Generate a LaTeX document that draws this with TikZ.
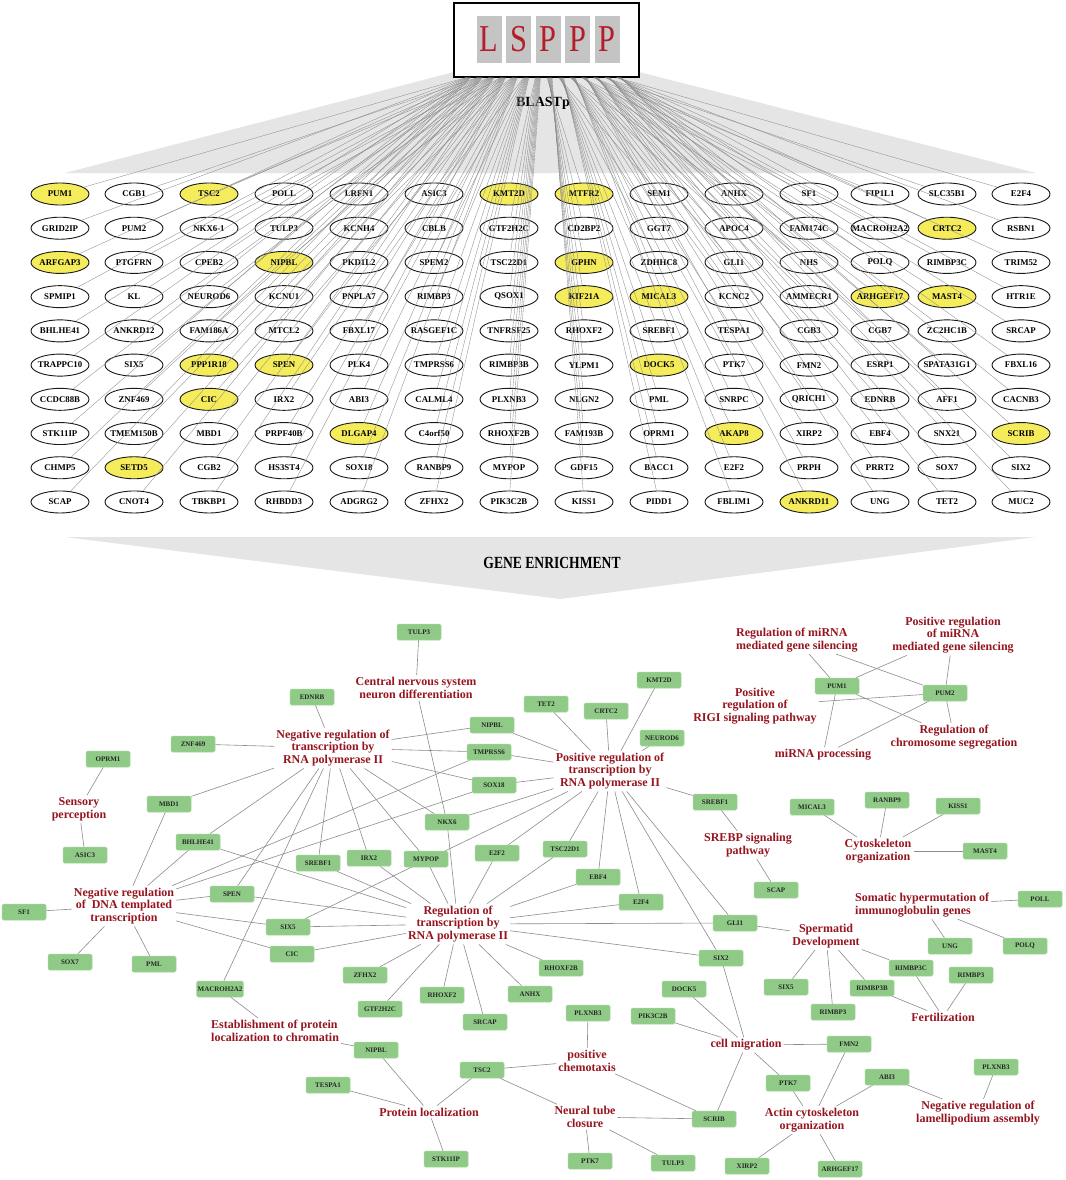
\documentclass[tikz,border=0pt]{standalone}
\usepackage{fontspec}
\setmainfont{Liberation Serif}
\usetikzlibrary{shapes.geometric,calc,backgrounds}
\definecolor{ylw}{RGB}{245,236,92}
\definecolor{gfill}{RGB}{143,203,135}
\definecolor{gline}{RGB}{165,214,158}
\definecolor{termred}{RGB}{150,22,32}
\definecolor{lred}{RGB}{180,30,42}
\definecolor{band}{RGB}{229,229,229}
\definecolor{lgray}{RGB}{196,196,196}
\def\colx{{60,134,209,284,359,434,509,584,659,734,809,880,947,1021}}
\newcommand\generow[2]{%
  \foreach \n/\s [count=\c] in {#2}{%
    \pgfmathsetmacro\xx{\colx[\c-1]}%
    \pgfmathsetmacro\yy{194+34.22*(#1-1)}%
    \node[gene,fill=\s] (t#1-\c) at (\xx,\yy) {\makebox[0pt]{\n}};
  }}
\tikzset{
  gene/.style={ellipse, draw=black!90, line width=0.9pt, minimum width=58pt, minimum height=22pt, inner sep=0pt, font=\bfseries\fontsize{8.8}{9}\selectfont},
  blast/.style={draw=black!45, line width=0.35pt},
  gb/.style={rectangle, rounded corners=1.5pt, fill=gfill, draw=gline, line width=0.5pt, minimum width=44pt, minimum height=16pt, inner sep=1pt, font=\bfseries\fontsize{7}{7}\selectfont, text=black!85},
  term/.style={text=termred, font=\bfseries\fontsize{12}{12.7}\selectfont, align=center, inner sep=2pt},
  lnk/.style={draw=black!45, line width=0.6pt},
  letbox/.style={fill=lgray, minimum width=25pt, minimum height=47pt, inner sep=0pt, text=lred, font=\fontsize{38}{38}\selectfont}
}
\begin{document}
\begin{tikzpicture}[x=1pt,y=-1pt]
\useasboundingbox (0,0) rectangle (1065,1180);
\begin{scope}[on background layer]
\fill[white] (0,0) rectangle (1065,1180);
\end{scope}
% bands
\fill[band] (454,72) -- (639,72) -- (1036,173) -- (65,173) -- cycle;
\fill[band] (65,537) -- (1036,537) -- (560,599) -- cycle;
% LSPPP box
\node[draw, line width=1.2pt, fill=white, minimum width=185pt, minimum height=74pt, inner sep=0pt] (lsp) at (546.5,40) {};
\foreach \L [count=\i] in {L,S,P,P,P}{
  \node[letbox] (let\i) at ({489+29.5*(\i-1)},39.5) {\scalebox{0.8}[1]{\L}};
}
\node[font=\bfseries\fontsize{14}{14}\selectfont] (blastp) at (543,103) {BLASTp};
\node[font=\bfseries\fontsize{17}{17}\selectfont] (genenr) at (552,563) {\scalebox{0.8}[1]{GENE ENRICHMENT}};
% gene grid
\generow{1}{PUM1/ylw,CGB1/white,TSC2/ylw,POLL/white,LRFN1/white,ASIC3/white,KMT2D/ylw,MTFR2/ylw,SEM1/white,ANHX/white,SF1/white,FIP1L1/white,SLC35B1/white,E2F4/white}
\generow{2}{GRID2IP/white,PUM2/white,NKX6-1/white,TULP3/white,KCNH4/white,CBLB/white,GTF2H2C/white,CD2BP2/white,GGT7/white,APOC4/white,FAM174C/white,MACROH2A2/white,CRTC2/ylw,RSBN1/white}
\generow{3}{ARFGAP3/ylw,PTGFRN/white,CPEB2/white,NIPBL/ylw,PKD1L2/white,SPEM2/white,TSC22D1/white,GPHN/ylw,ZDHHC8/white,GLI1/white,NHS/white,POLQ/white,RIMBP3C/white,TRIM52/white}
\generow{4}{SPMIP1/white,KL/white,NEUROD6/white,KCNU1/white,PNPLA7/white,RIMBP3/white,QSOX1/white,KIF21A/ylw,MICAL3/ylw,KCNC2/white,AMMECR1/white,ARHGEF17/ylw,MAST4/ylw,HTR1E/white}
\generow{5}{BHLHE41/white,ANKRD12/white,FAM186A/white,MTCL2/white,FBXL17/white,RASGEF1C/white,TNFRSF25/white,RHOXF2/white,SREBF1/white,TESPA1/white,CGB3/white,CGB7/white,ZC2HC1B/white,SRCAP/white}
\generow{6}{TRAPPC10/white,SIX5/white,PPP1R18/ylw,SPEN/ylw,PLK4/white,TMPRSS6/white,RIMBP3B/white,YLPM1/white,DOCK5/ylw,PTK7/white,FMN2/white,ESRP1/white,SPATA31G1/white,FBXL16/white}
\generow{7}{CCDC88B/white,ZNF469/white,CIC/ylw,IRX2/white,ABI3/white,CALML4/white,PLXNB3/white,NLGN2/white,PML/white,SNRPC/white,QRICH1/white,EDNRB/white,AFF1/white,CACNB3/white}
\generow{8}{STK11IP/white,TMEM150B/white,MBD1/white,PRPF40B/white,DLGAP4/ylw,C4orf50/white,RHOXF2B/white,FAM193B/white,OPRM1/white,AKAP8/ylw,XIRP2/white,EBF4/white,SNX21/white,SCRIB/ylw}
\generow{9}{CHMP5/white,SETD5/ylw,CGB2/white,HS3ST4/white,SOX18/white,RANBP9/white,MYPOP/white,GDF15/white,BACC1/white,E2F2/white,PRPH/white,PRRT2/white,SOX7/white,SIX2/white}
\generow{10}{SCAP/white,CNOT4/white,TBKBP1/white,RHBDD3/white,ADGRG2/white,ZFHX2/white,PIK3C2B/white,KISS1/white,PIDD1/white,FBLIM1/white,ANKRD11/ylw,UNG/white,TET2/white,MUC2/white}
% BLASTp fan
\foreach \r in {1,...,10}{
  \foreach \c in {1,...,14}{
    \pgfmathsetmacro\tf{0.08+0.81*(\c-1)/13+(\r-5.5)*0.003}
    \draw[blast] ($(lsp.south west)!\tf!(lsp.south east)$) -- (t\r-\c);
  }
}
% network genes
\node[gb] (nTULP3a) at (419,632) {TULP3};
\node[gb] (nEDNRB) at (312,697) {EDNRB};
\node[gb] (nZNF469) at (193,744) {ZNF469};
\node[gb] (nNIPBLa) at (492,725) {NIPBL};
\node[gb] (nTMPRSS6) at (489,752) {TMPRSS6};
\node[gb] (nOPRM1) at (108,759) {OPRM1};
\node[gb] (nSOX18) at (494,785) {SOX18};
\node[gb] (nMBD1) at (169,804) {MBD1};
\node[gb] (nNKX6) at (447,822) {NKX6};
\node[gb] (nBHLHE41) at (198,842) {BHLHE41};
\node[gb] (nASIC3) at (85,855) {ASIC3};
\node[gb] (nSREBF1a) at (318,863) {SREBF1};
\node[gb] (nIRX2) at (369,858) {IRX2};
\node[gb] (nMYPOP) at (426,859) {MYPOP};
\node[gb] (nE2F2) at (497,853) {E2F2};
\node[gb] (nSPEN) at (232,894) {SPEN};
\node[gb] (nSF1) at (24,912) {SF1};
\node[gb] (nSOX7) at (70,962) {SOX7};
\node[gb] (nPML) at (154,964) {PML};
\node[gb] (nSIX5a) at (288,927) {SIX5};
\node[gb] (nCIC) at (292,954) {CIC};
\node[gb] (nMACROH2A2) at (220,989) {MACROH2A2};
\node[gb] (nZFHX2) at (365,975) {ZFHX2};
\node[gb] (nGTF2H2C) at (380,1009) {GTF2H2C};
\node[gb] (nRHOXF2) at (442,995) {RHOXF2};
\node[gb] (nSRCAP) at (485,1022) {SRCAP};
\node[gb] (nNIPBLb) at (376,1050) {NIPBL};
\node[gb] (nTSC2) at (482,1070) {TSC2};
\node[gb] (nTESPA1) at (328,1085) {TESPA1};
\node[gb] (nSTK11IP) at (446,1159) {STK11IP};
\node[gb] (nPUM1) at (837,686) {PUM1};
\node[gb] (nPUM2) at (945,693) {PUM2};
\node[gb] (nKMT2D) at (659,680) {KMT2D};
\node[gb] (nTET2) at (546,704) {TET2};
\node[gb] (nCRTC2) at (606,711) {CRTC2};
\node[gb] (nNEUROD6) at (662,738) {NEUROD6};
\node[gb] (nSREBF1b) at (715,802) {SREBF1};
\node[gb] (nMICAL3) at (812,807) {MICAL3};
\node[gb] (nRANBP9) at (887,800) {RANBP9};
\node[gb] (nKISS1) at (958,806) {KISS1};
\node[gb] (nMAST4) at (985,851) {MAST4};
\node[gb] (nTSC22D1) at (565,849) {TSC22D1};
\node[gb] (nEBF4) at (598,877) {EBF4};
\node[gb] (nSCAP) at (776,890) {SCAP};
\node[gb] (nE2F4) at (641,902) {E2F4};
\node[gb] (nPOLL) at (1040,899) {POLL};
\node[gb] (nGLI1) at (735,923) {GLI1};
\node[gb] (nUNG) at (950,946) {UNG};
\node[gb] (nPOLQ) at (1025,946) {POLQ};
\node[gb] (nSIX2) at (721,958) {SIX2};
\node[gb] (nRHOXF2B) at (561,968) {RHOXF2B};
\node[gb] (nRIMBP3C) at (911,968) {RIMBP3C};
\node[gb] (nRIMBP3right) at (971,975) {RIMBP3};
\node[gb] (nSIX5b) at (786,987) {SIX5};
\node[gb] (nRIMBP3B) at (872,988) {RIMBP3B};
\node[gb] (nANHX) at (530,994) {ANHX};
\node[gb] (nDOCK5) at (684,989) {DOCK5};
\node[gb] (nPLXNB3a) at (588,1013) {PLXNB3};
\node[gb] (nPIK3C2B) at (653,1016) {PIK3C2B};
\node[gb] (nRIMBP3mid) at (833,1012) {RIMBP3};
\node[gb] (nFMN2) at (849,1044) {FMN2};
\node[gb] (nPLXNB3b) at (996,1067) {PLXNB3};
\node[gb] (nABI3) at (887,1077) {ABI3};
\node[gb] (nPTK7a) at (788,1083) {PTK7};
\node[gb] (nSCRIB) at (714,1119) {SCRIB};
\node[gb] (nPTK7b) at (590,1161) {PTK7};
\node[gb] (nTULP3b) at (673,1163) {TULP3};
\node[gb] (nXIRP2) at (747,1166) {XIRP2};
\node[gb] (nARHGEF17) at (840,1169) {ARHGEF17};
% terms
\node[term] (cCNS) at (416,688) {Central nervous system\\neuron differentiation};
\node[term] (cNRT) at (333,748) {Negative regulation of\\transcription by\\RNA polymerase II};
\node[term] (cSEN) at (79,809) {Sensory\\perception};
\node[term] (cNDNA) at (124,906) {Negative regulation\\of\ \ DNA templated\\transcription};
\node[term] (cRT) at (458,924) {Regulation of\\transcription by\\RNA polymerase II};
\node[term, anchor=west, align=left] (cEST) at (209,1031) {Establishment of protein\\localization to chromatin};
\node[term] (cPL) at (429,1112) {Protein localization};
\node[term, anchor=west, align=left] (cRMI) at (734,640) {Regulation of miRNA\\mediated gene silencing};
\node[term] (cPMI) at (953,635) {Positive regulation\\of miRNA\\mediated gene silencing};
\node[term] (cRIG) at (755,706) {Positive\\regulation of\\RIGI signaling pathway};
\node[term] (cMIP) at (823,755) {miRNA processing};
\node[term] (cCHR) at (954,737) {Regulation of\\chromosome segregation};
\node[term] (cPRT) at (610,771) {Positive regulation of\\transcription by\\RNA polymerase II};
\node[term] (cSRB) at (748,845) {SREBP signaling\\pathway};
\node[term] (cCYT) at (878,851) {Cytoskeleton\\organization};
\node[term, anchor=west, align=left] (cSOM) at (853,905) {Somatic hypermutation of\\immunoglobulin genes};
\node[term] (cSPD) at (826,936) {Spermatid\\Development};
\node[term] (cFER) at (943,1017) {Fertilization};
\node[term] (cCM) at (746,1045) {cell migration};
\node[term] (cPC) at (587,1061) {positive\\chemotaxis};
\node[term] (cNLA) at (978,1113) {Negative regulation of\\lamellipodium assembly};
\node[term] (cNTC) at (585,1117) {Neural tube\\closure};
\node[term] (cACT) at (812,1120) {Actin cytoskeleton\\organization};
% edges
\begin{scope}[on background layer]
\foreach \a/\b in {cCNS/nTULP3a, cCNS/nNKX6,
 cNRT/nEDNRB, cNRT/nZNF469, cNRT/nNIPBLa, cNRT/nTMPRSS6, cNRT/nSOX18, cNRT/nNKX6, cNRT/nMBD1, cNRT/nBHLHE41, cNRT/nSPEN, cNRT/nSREBF1a, cNRT/nIRX2, cNRT/nMYPOP, cNRT/nMACROH2A2,
 cSEN/nOPRM1, cSEN/nASIC3,
 cNDNA/nMBD1, cNDNA/nBHLHE41, cNDNA/nTMPRSS6, cNDNA/nSOX18, cNDNA/nSPEN, cNDNA/nSF1, cNDNA/nSOX7, cNDNA/nPML, cNDNA/nSIX5a, cNDNA/nCIC,
 cRT/nNKX6, cRT/nBHLHE41, cRT/nSREBF1a, cRT/nIRX2, cRT/nMYPOP, cRT/nE2F2, cRT/nTSC22D1, cRT/nEBF4, cRT/nE2F4, cRT/nGLI1, cRT/nSIX2, cRT/nSPEN, cRT/nSIX5a, cRT/nCIC, cRT/nZFHX2, cRT/nGTF2H2C, cRT/nRHOXF2, cRT/nSRCAP, cRT/nANHX, cRT/nRHOXF2B,
 cPRT/nTET2, cPRT/nCRTC2, cPRT/nKMT2D, cPRT/nNEUROD6, cPRT/nNIPBLa, cPRT/nTMPRSS6, cPRT/nSOX18, cPRT/nNKX6, cPRT/nSIX5a, cPRT/nE2F2, cPRT/nTSC22D1, cPRT/nEBF4, cPRT/nE2F4, cPRT/nSIX2, cPRT/nGLI1, cPRT/nSREBF1b,
 cEST/nMACROH2A2, cEST/nNIPBLb,
 cPL/nNIPBLb, cPL/nTSC2, cPL/nTESPA1, cPL/nSTK11IP,
 cRMI/nPUM1, cRMI/nPUM2, cPMI/nPUM1, cPMI/nPUM2, cRIG/nPUM1, cRIG/nPUM2, cMIP/nPUM1, cMIP/nPUM2, cCHR/nPUM1, cCHR/nPUM2,
 cSRB/nSREBF1b, cSRB/nSCAP,
 cCYT/nMICAL3, cCYT/nRANBP9, cCYT/nKISS1, cCYT/nMAST4,
 cSOM/nPOLL, cSOM/nUNG, cSOM/nPOLQ,
 cSPD/nGLI1, cSPD/nSIX5b, cSPD/nRIMBP3mid, cSPD/nRIMBP3B, cSPD/nRIMBP3C,
 cFER/nRIMBP3C, cFER/nRIMBP3B, cFER/nRIMBP3right,
 cCM/nSIX2, cCM/nDOCK5, cCM/nPIK3C2B, cCM/nFMN2, cCM/nPTK7a, cCM/nSCRIB,
 cPC/nPLXNB3a, cPC/nTSC2, cPC/nSCRIB,
 cNTC/nTSC2, cNTC/nSCRIB, cNTC/nPTK7b, cNTC/nTULP3b,
 cACT/nPTK7a, cACT/nFMN2, cACT/nABI3, cACT/nXIRP2, cACT/nARHGEF17,
 cNLA/nABI3, cNLA/nPLXNB3b}
 \draw[lnk] (\a) -- (\b);
\end{scope}
\end{tikzpicture}
\end{document}
